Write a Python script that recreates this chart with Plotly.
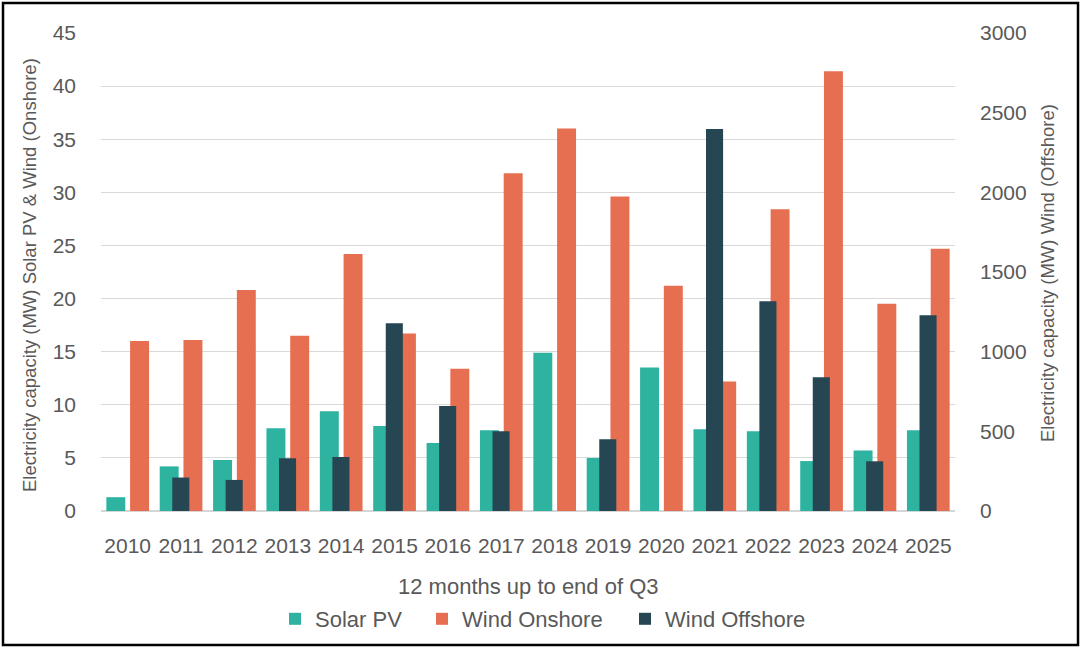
import plotly.graph_objects as go

years = ["2010", "2011", "2012", "2013", "2014", "2015", "2016", "2017",
         "2018", "2019", "2020", "2021", "2022", "2023", "2024", "2025"]
solar_pv = [1.3, 4.2, 4.8, 7.8, 9.4, 8.0, 6.4, 7.6,
            14.9, 5.0, 13.5, 7.7, 7.5, 4.7, 5.7, 7.6]
wind_onshore = [16.0, 16.1, 20.8, 16.5, 24.2, 16.7, 13.4, 31.8,
                36.0, 29.6, 21.2, 12.2, 28.4, 41.4, 19.5, 24.7]
wind_offshore = [0, 210, 195, 331, 339, 1179, 659, 500,
                 0, 450, 0, 2397, 1317, 840, 312, 1229]

C_SOLAR = "#2db3a0"
C_ON = "#e76f51"
C_OFF = "#264653"
TXT = "#595959"
TICKFONT = "Liberation Sans, Arial, sans-serif"
FONT = "Liberation Sans, Arial, sans-serif"

fig = go.Figure()
fig.add_trace(go.Bar(name="Solar PV", x=years, y=solar_pv, marker_color=C_SOLAR,
                     width=0.355, offset=-0.40, yaxis="y", marker_line_width=0,
                     legend="legend"))
fig.add_trace(go.Bar(name="Wind Onshore", x=years, y=wind_onshore, marker_color=C_ON,
                     width=0.355, offset=0.045, yaxis="y", marker_line_width=0,
                     legend="legend2"))
fig.add_trace(go.Bar(name="Wind Offshore", x=years, y=wind_offshore, marker_color=C_OFF,
                     width=0.32, offset=-0.165, yaxis="y2", marker_line_width=0,
                     legend="legend3"))

L, R, T, B = 101, 955, 33, 511
W, H = 1082, 649

def px(xp):
    return (xp - L) / (R - L)

def py(yp):
    return (B - yp) / (B - T)

def leg(xleft):
    return dict(orientation="h", x=px(xleft), xanchor="left", y=py(619), yanchor="middle",
                font=dict(family=FONT, size=22, color=TXT),
                bgcolor="rgba(0,0,0,0)")

fig.update_layout(
    width=W, height=H,
    margin=dict(l=L, r=W - R, t=T, b=H - B, autoexpand=False),
    paper_bgcolor="white", plot_bgcolor="white",
    barmode="overlay",
    showlegend=True,
    legend=leg(275),
    legend2=leg(422),
    legend3=leg(625),
    xaxis=dict(type="category", showgrid=False, showline=False, ticks="",
               tickangle=0, automargin=False,
               tickfont=dict(family=TICKFONT, size=21, color=TXT),
               ticklabelstandoff=20),
    yaxis=dict(range=[0, 45], dtick=5, showgrid=True, gridcolor="#d9d9d9", gridwidth=1.3,
               zeroline=True, zerolinecolor="#d6d6d6", zerolinewidth=1.8, automargin=False,
               tickfont=dict(family=TICKFONT, size=21, color=TXT),
               ticklabelstandoff=24, fixedrange=True),
    yaxis2=dict(range=[0, 3000], dtick=500, overlaying="y", side="right", showgrid=False,
                zeroline=False, automargin=False,
                tickfont=dict(family=TICKFONT, size=21, color=TXT),
                ticklabelstandoff=24, fixedrange=True),
    annotations=[
        dict(text="Electricity capacity (MW) Solar PV & Wind (Onshore)", xref="paper", yref="paper",
             x=px(29), y=py(275), xanchor="center", yanchor="middle", textangle=-90,
             showarrow=False, font=dict(family=FONT, size=18.5, color=TXT)),
        dict(text="Electricity capacity (MW) Wind (Offshore)", xref="paper", yref="paper",
             x=px(1047), y=py(273), xanchor="center", yanchor="middle", textangle=-90,
             showarrow=False, font=dict(family=FONT, size=18.5, color=TXT)),
        dict(text="12 months up to end of Q3", xref="paper", yref="paper",
             x=0.5, y=py(586), xanchor="center", yanchor="middle",
             showarrow=False, font=dict(family=FONT, size=22, color=TXT)),
    ],
    shapes=[dict(type="rect", xref="paper", yref="paper",
                 x0=px(3), x1=px(1078), y0=py(645), y1=py(3),
                 line=dict(color="black", width=2.5), fillcolor="rgba(0,0,0,0)", layer="above")],
)

fig.write_html("out.html", config={"displayModeBar": False},
               post_script="document.body.style.margin='0';document.body.style.overflow='hidden';")
